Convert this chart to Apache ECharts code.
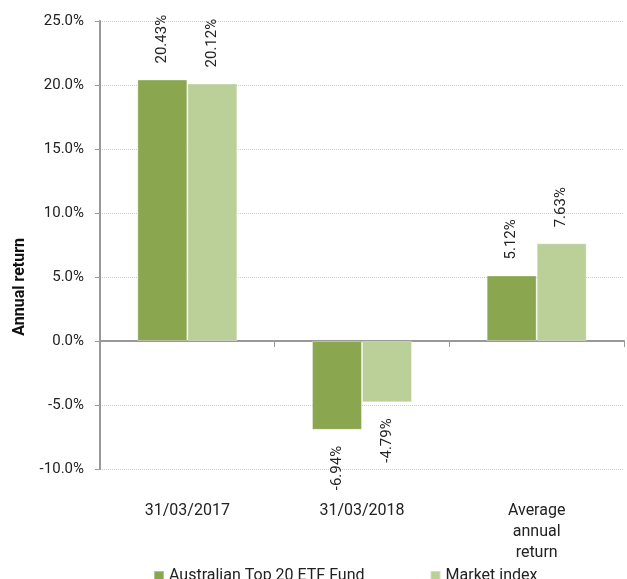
<!DOCTYPE html>
<html>
<head>
<meta charset="utf-8">
<script src="https://cdn.jsdelivr.net/npm/echarts@6/dist/echarts.min.js"></script>
<style>
  html, body { margin: 0; padding: 0; background: #fff; }
  #chart { width: 627px; height: 579px; }
</style>
</head>
<body>
<div id="chart"></div>
<script>
var categories = ['31/03/2017', '31/03/2018', 'Average\nannual\nreturn']
var fundName = 'Australian Top 20 ETF Fund'
var indexName = 'Market index'
var fundValues = [20.43, -6.94, 5.12]
var indexValues = [20.12, -4.79, 7.63]

var chart = echarts.init(document.getElementById('chart'))

// 正值标签在柱上方，负值在柱下方，都竖排
function withLabels (values) {
  return values.map(function (v) {
    var pos = v >= 0
    return {
      value: v,
      label: {
        show: true,
        position: pos ? 'top' : 'bottom',
        distance: 16,
        rotate: 90,
        align: pos ? 'left' : 'right',
        verticalAlign: 'middle',
        color: '#222',
        fontSize: 15,
        fontFamily: 'Roboto',
        formatter: function (p) { return p.value.toFixed(2) + '%' }
      }
    }
  })
}

var option = {
  animation: false,
  textStyle: { fontFamily: 'Roboto' },
  grid: { left: 100, right: 3, top: 21, bottom: 110, containLabel: false },
  legend: {
    left: 148,
    top: 563,
    icon: 'rect',
    itemWidth: 10,
    itemHeight: 10,
    itemGap: 65,
    textStyle: { fontSize: 16, color: '#222', fontFamily: 'Roboto' },
    data: [fundName, indexName]
  },
  graphic: [{
    type: 'text',
    left: 12,
    top: 238,
    rotation: Math.PI / 2,
    style: {
      text: 'Annual return',
      font: 'bold 16px Roboto',
      fill: '#111'
    }
  }],
  xAxis: [
    {
      type: 'category',
      data: categories,
      position: 'bottom',
      axisLine: { show: false, onZero: false },
      axisTick: { show: false },
      axisLabel: { margin: 31, fontSize: 16, lineHeight: 21, color: '#222', interval: 0 }
    },
    {
      type: 'category',
      data: categories,
      position: 'bottom',
      axisLine: { show: true, onZero: true, lineStyle: { color: '#999', width: 2 } },
      axisTick: { show: true, length: 6, lineStyle: { color: '#999', width: 1 } },
      axisLabel: { show: false }
    }
  ],
  yAxis: {
    type: 'value',
    min: -10,
    max: 25,
    interval: 5,
    axisLine: { show: true, lineStyle: { color: '#999', width: 2 } },
    axisTick: { show: true, length: 5, lineStyle: { color: '#999' } },
    axisLabel: {
      margin: 16,
      fontSize: 15,
      color: '#222',
      formatter: function (v) { return v.toFixed(1) + '%' }
    },
    splitLine: { show: true, lineStyle: { color: '#ccc', type: 'dotted', width: 1 } }
  },
  series: [
    {
      name: fundName,
      type: 'bar',
      xAxisIndex: 0,
      barWidth: 50,
      barGap: 0,
      itemStyle: { color: '#8aa64f', borderColor: 'rgba(255,255,255,0.35)', borderWidth: 1 },
      data: withLabels(fundValues)
    },
    {
      name: indexName,
      type: 'bar',
      xAxisIndex: 0,
      barWidth: 50,
      barGap: 0,
      itemStyle: { color: '#bbcf99', borderColor: 'rgba(255,255,255,0.35)', borderWidth: 1 },
      data: withLabels(indexValues)
    }
  ]
}
chart.setOption(option)
</script>
</body>
</html>
